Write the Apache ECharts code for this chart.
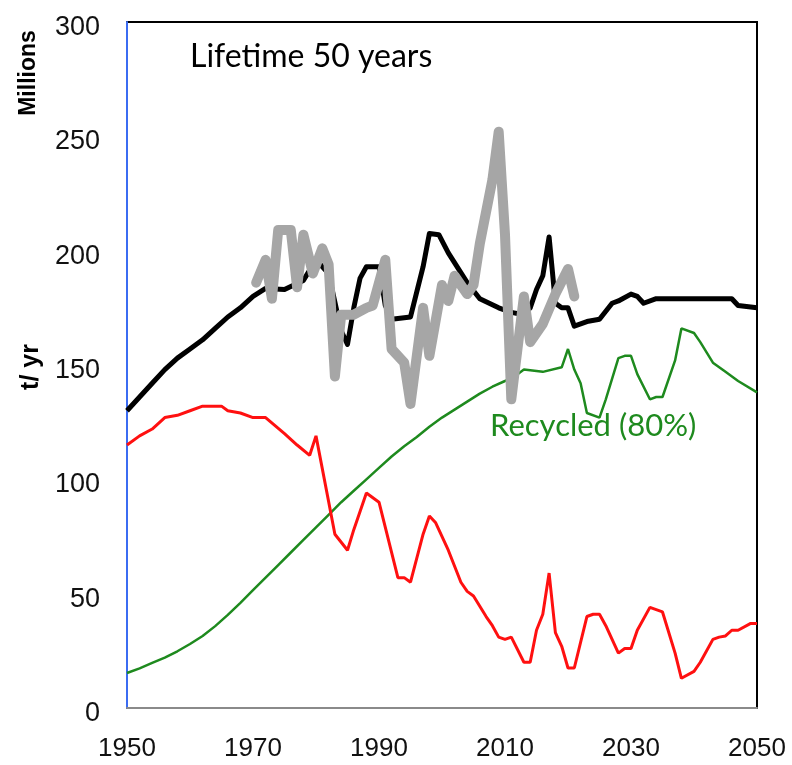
<!DOCTYPE html>
<html>
<head>
<meta charset="utf-8">
<script src="https://cdn.jsdelivr.net/npm/echarts@6/dist/echarts.min.js"></script>
<style>
  html, body { margin: 0; padding: 0; background: #fff; }
  #chart { width: 792px; height: 765px; }
</style>
</head>
<body>
<div id="chart"></div>
<script>
// ---- Data (Millions t/yr) ----
const xTicks = [1950, 1970, 1990, 2010, 2030, 2050];
const yTicks = [0, 50, 100, 150, 200, 250, 300];

// Total (black)
const totalDemand = [
  [1950,130],[1952,136],[1954,142],[1956,148],[1958,153],[1960,157],[1962,161],
  [1964,166],[1966,171],[1968,175],[1970,180],[1972,183.5],[1975,183],[1978,187],
  [1980,196],[1982,190],[1984,165],[1985,159],[1986,175],[1987,188],[1988,193],
  [1990,193],[1991,176],[1992,170],[1995,171],[1997,193],[1998,207.5],[1999.5,207],
  [2001,199],[2004,186],[2006,179],[2009,175],[2011,173],[2013,172],[2014,175],
  [2015,183],[2016,189],[2017,206],[2018,177],[2019,175],[2020,175],[2021,167],
  [2023,169],[2025,170],[2027,177],[2028,178],[2030,181],[2031,180],[2032,177],
  [2034,179],[2046,179],[2047,176],[2050,175]
];

// Historical (grey)
const historical = [
  [1970.5,186],[1972,196],[1973,179],[1974,209],[1976,209],[1977,184],[1978,207],
  [1979.5,190],[1981,201],[1982,194],[1983,145],[1984,172],[1986,172],[1988,175],
  [1989,176],[1991,196],[1992,157],[1994,151],[1995,133],[1997,175],[1998,154],
  [2000,185],[2001,178],[2002,189],[2004,181],[2005,185],[2006,203],[2008,231],
  [2009,252],[2010,207],[2011,135],[2013,180],[2014,160],[2016,168],[2018,181],
  [2020,192],[2021,180]
];

// Primary / new (red)
const primary = [
  [1950,115],[1952,119],[1954,122],[1956,127],[1958,128],[1960,130],[1962,132],
  [1965,132],[1966,130],[1968,129],[1970,127],[1972,127],[1975,120],[1977,115],
  [1979,110.5],[1980,119],[1983,76],[1985,69],[1986,78],[1988,94],[1990,90],
  [1993,57],[1994,57],[1995,55],[1997,76],[1998,84],[1999,81],[2001,69],[2003,55],
  [2004,51],[2005,49],[2007,40],[2008,36],[2009,31],[2010,30],[2011,31],[2013,20],
  [2014,20],[2015,34],[2016,41],[2017,59],[2018,33],[2019,27],[2020,17.5],[2021,17.5],
  [2023,40],[2024,41],[2025,41],[2026,36],[2028,24],[2029,26],[2030,26],[2031,34],
  [2033,44],[2034,43],[2035,42],[2037,24],[2038,13],[2040,16],[2041,20],[2043,30],
  [2044,31],[2045,31.5],[2046,34],[2047,34],[2049,37],[2050,37]
];

// Recycled (green)
const recycled = [
  [1950,15.3],[1952,17.3],[1954,19.7],[1956,22],[1958,24.8],[1960,28],[1962,31.5],
  [1964,35.8],[1966,40.7],[1968,46],[1970,51.5],[1972,57],[1974,62.5],[1976,68],
  [1978,73.5],[1980,79],[1982,84.5],[1984,90],[1986,95],[1988,100],[1990,105],
  [1992,110],[1994,114.5],[1996,118.5],[1998,123],[2000,127],[2002,130.5],[2004,134],
  [2006,137.5],[2008,140.5],[2010,143],[2012,146],[2013,148],[2016,147],[2019,149],
  [2020,157],[2021,148],[2022,142],[2023,129],[2025,127],[2026,135],[2028,153],
  [2029,154],[2030,154],[2031,146],[2033,135],[2034,136],[2035,136],[2037,152],
  [2038,166],[2040,164],[2041,160],[2043,151],[2045,147],[2047,143],[2050,138]
];

const chart = echarts.init(document.getElementById('chart'), null, { renderer: 'canvas' });

chart.setOption({
  animation: false,
  backgroundColor: '#ffffff',
  grid: {
    left: 127, top: 22, width: 630, height: 686,
    show: true, borderColor: '#000', borderWidth: 2, backgroundColor: 'transparent'
  },
  xAxis: {
    type: 'value', min: xTicks[0], max: xTicks[xTicks.length - 1], interval: 20,
    axisLine: { show: true, lineStyle: { color: '#8a8a8a', width: 2 } },
    axisTick: { show: false },
    splitLine: { show: false },
    axisLabel: {
      margin: 28, fontFamily: 'Liberation Sans', fontSize: 26, color: '#111',
      formatter: v => String(v)
    }
  },
  yAxis: {
    type: 'value', min: yTicks[0], max: yTicks[yTicks.length - 1], interval: 50,
    axisLine: { show: true, lineStyle: { color: '#3b6cf2', width: 2 } },
    axisTick: { show: false },
    splitLine: { show: false },
    axisLabel: {
      margin: 27, color: '#111',
      formatter: v => '{a|' + v + '}',
      rich: {
        a: { fontFamily: 'Liberation Sans', fontSize: 27, color: '#111', padding: [11, 0, 0, 0] }
      }
    }
  },
  series: [
    {
      name: 'Recycled', type: 'line', data: recycled, showSymbol: false, z: 2,
      lineStyle: { color: '#1e8a1e', width: 2.5 }
    },
    {
      name: 'Primary', type: 'line', data: primary, showSymbol: false, z: 3,
      lineStyle: { color: '#ff1010', width: 3 }
    },
    {
      name: 'Total', type: 'line', data: totalDemand, showSymbol: false, z: 4,
      lineStyle: { color: '#000', width: 5, join: 'round' }
    },
    {
      name: 'Historical', type: 'line', data: historical, showSymbol: false, z: 5,
      lineStyle: { color: '#a6a6a6', width: 10, cap: 'round', join: 'round' }
    }
  ],
  graphic: [
    {
      type: 'text', left: 190, top: 41,
      style: { text: 'Lifetime 50 years', font: '32px Lato', fill: '#000' }
    },
    {
      type: 'text', left: 490, top: 410,
      style: { text: 'Recycled (80%)', font: '31px Lato', fill: '#1e8a1e' }
    },
    {
      type: 'text', x: 29, y: 73, rotation: Math.PI / 2,
      style: { text: 'Millions', font: 'bold 23px "Liberation Sans"', fill: '#000',
               align: 'center', verticalAlign: 'middle' }
    },
    {
      type: 'text', x: 31, y: 367, rotation: Math.PI / 2,
      style: { text: 't/ yr', font: 'bold 25px "Liberation Sans"', fill: '#000',
               align: 'center', verticalAlign: 'middle' }
    }
  ]
});
</script>
</body>
</html>
